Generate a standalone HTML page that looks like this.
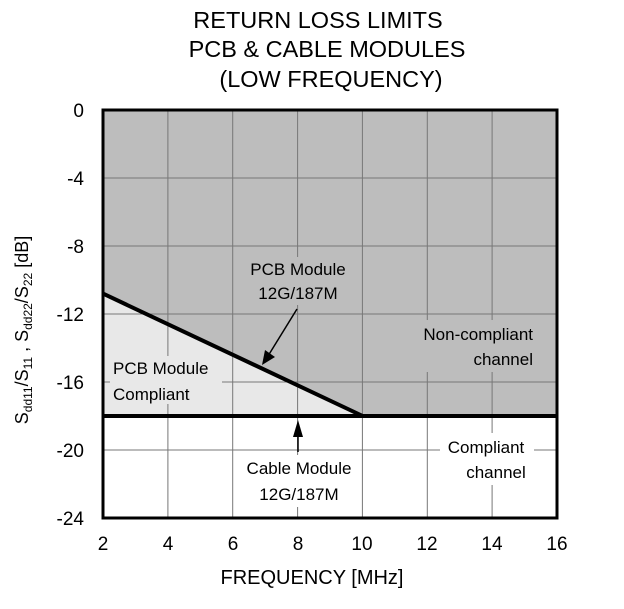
<!DOCTYPE html>
<html><head><style>body{margin:0;background:#fff}svg{display:block}</style></head><body>
<svg width="624" height="609" xmlns="http://www.w3.org/2000/svg" font-family="Liberation Sans, sans-serif">
<rect width="624" height="609" fill="#fff"/>
<text x="318" y="28" font-size="23.5" text-anchor="middle">RETURN LOSS LIMITS</text>
<text x="327" y="57" font-size="23.5" text-anchor="middle">PCB &amp; CABLE MODULES</text>
<text x="331" y="87" font-size="23.5" text-anchor="middle">(LOW FREQUENCY)</text>
<rect x="103" y="110" width="454" height="306" fill="#bdbdbd"/>
<polygon points="103,293.6 362.7,416 103,416" fill="#e8e8e8"/>
<g stroke="#777" stroke-width="1">
<line x1="167.9" y1="110" x2="167.9" y2="518"/><line x1="232.7" y1="110" x2="232.7" y2="518"/>
<line x1="297.6" y1="110" x2="297.6" y2="518"/><line x1="362.4" y1="110" x2="362.4" y2="518"/>
<line x1="427.3" y1="110" x2="427.3" y2="518"/><line x1="492.1" y1="110" x2="492.1" y2="518"/>
<line x1="103" y1="178" x2="557" y2="178"/><line x1="103" y1="246" x2="557" y2="246"/>
<line x1="103" y1="314" x2="557" y2="314"/><line x1="103" y1="382" x2="557" y2="382"/>
<line x1="103" y1="450" x2="557" y2="450"/>
</g>
<g font-size="17" text-anchor="middle">
<rect x="244" y="257" width="108" height="48" fill="#bdbdbd"/>
<text x="298" y="275">PCB Module</text><text x="298" y="299">12G/187M</text>
<rect x="110" y="356" width="112" height="48" fill="#e8e8e8"/>
<text x="113" y="374" text-anchor="start">PCB Module</text><text x="113" y="400" text-anchor="start">Compliant</text>
<rect x="240" y="455" width="118" height="52" fill="#fff"/>
<text x="299" y="474">Cable Module</text><text x="299" y="500">12G/187M</text>
<rect x="412" y="320" width="124" height="52" fill="#bdbdbd"/>
<text x="533" y="340" text-anchor="end">Non-compliant</text><text x="533" y="365" text-anchor="end">channel</text>
<rect x="440" y="433" width="94" height="52" fill="#fff"/>
<text x="486" y="453">Compliant</text><text x="496" y="478">channel</text>
</g>
<line x1="297" y1="309" x2="268" y2="356" stroke="#000" stroke-width="1.5"/>
<polygon points="262,365 265,350 275,357" fill="#000"/>
<line x1="298" y1="432" x2="298" y2="452" stroke="#000" stroke-width="1.5"/>
<polygon points="298,420 293,437 303,437" fill="#000"/>
<line x1="103" y1="293.6" x2="362.7" y2="416" stroke="#000" stroke-width="4"/>
<line x1="103" y1="416" x2="557" y2="416" stroke="#000" stroke-width="4"/>
<rect x="103" y="110" width="454" height="408" fill="none" stroke="#000" stroke-width="3"/>
<g font-size="19" text-anchor="end">
<text x="84" y="117">0</text><text x="84" y="185">-4</text><text x="84" y="253">-8</text>
<text x="84" y="321">-12</text><text x="84" y="389">-16</text><text x="84" y="457">-20</text><text x="84" y="525">-24</text>
</g>
<g font-size="19" text-anchor="middle">
<text x="103" y="550">2</text><text x="168" y="550">4</text><text x="233" y="550">6</text><text x="298" y="550">8</text>
<text x="362" y="550">10</text><text x="427" y="550">12</text><text x="492" y="550">14</text><text x="557" y="550">16</text>
</g>
<text x="312" y="584" font-size="20" text-anchor="middle">FREQUENCY [MHz]</text>
<text transform="translate(28,330) rotate(-90)" font-size="18" text-anchor="middle">S<tspan font-size="12" dy="4">dd11</tspan><tspan dy="-4">/S</tspan><tspan font-size="12" dy="4">11</tspan><tspan dy="-4"> , S</tspan><tspan font-size="12" dy="4">dd22</tspan><tspan dy="-4">/S</tspan><tspan font-size="12" dy="4">22</tspan><tspan dy="-4"> [dB]</tspan></text>
</svg>
</body></html>
